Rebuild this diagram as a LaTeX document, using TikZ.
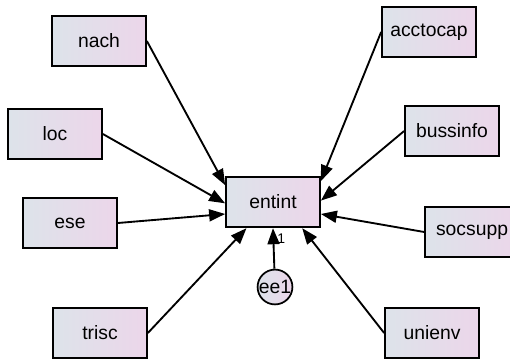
\documentclass[tikz,border=0pt]{standalone}
\usepackage{fontspec}
\setmainfont{Liberation Sans}
\usetikzlibrary{arrows.meta}
\definecolor{boxleft}{RGB}{221,227,234}
\definecolor{boxright}{RGB}{236,214,234}

\begin{document}
\begin{tikzpicture}[
        x=0.75pt, y=-0.75pt,
        observed/.style={rectangle, draw=black, line width=1.3pt, left color=boxleft, right color=boxright,
                        minimum width=70.5pt, minimum height=38pt, inner sep=0pt,
                        font=\fontsize{14.5}{16}\selectfont},
        error/.style={circle, draw=black, line width=1.3pt, left color=boxleft, right color=boxright,
                        minimum size=25pt, inner sep=0pt, font=\fontsize{14.5}{16}\selectfont},
        arrow/.style={line width=1.4pt, -{Triangle[length=12pt, width=9pt]}}
    ]
        \useasboundingbox (0,0) rectangle (510,359);

        \node[observed] (entint) at (273,202) {entint};

        \node[observed] (nach) at (99,41) {nach};
        \node[observed] (loc) at (55,134) {loc};
        \node[observed] (ese) at (70,223) {ese};
        \node[observed] (trisc) at (100,333) {trisc};

        \node[observed] (acctocap) at (429,32) {acctocap};
        \node[observed] (bussinfo) at (452,131) {bussinfo};
        \node[observed] (socsupp) at (472,232) {socsupp};
        \node[observed] (unienv) at (432,333) {unienv};

        \node[error] (ee1) at (275,287) {ee1};

        \draw[arrow] (nach.east) -- ([yshift=-7pt]entint.north west);
        \draw[arrow] (loc.east) -- ([yshift=-1pt]entint.west);
        \draw[arrow] (ese.east) -- ([yshift=-9pt]entint.west);
        \draw[arrow] (trisc.east) -- ([xshift=16pt]entint.south west);

        \draw[arrow] (acctocap.west) -- ([yshift=-4pt]entint.north east);
        \draw[arrow] (bussinfo.west) -- ([yshift=1pt]entint.east);
        \draw[arrow] (socsupp.west) -- ([yshift=-9pt]entint.east);
        \draw[arrow] (unienv.west) -- ([xshift=-14pt]entint.south east);

        \draw[arrow] (ee1) -- node[right, pos=0.75, xshift=-1pt, font=\fontsize{10.5}{12}\selectfont] {1} (entint.south);
    \end{tikzpicture}
\end{document}
